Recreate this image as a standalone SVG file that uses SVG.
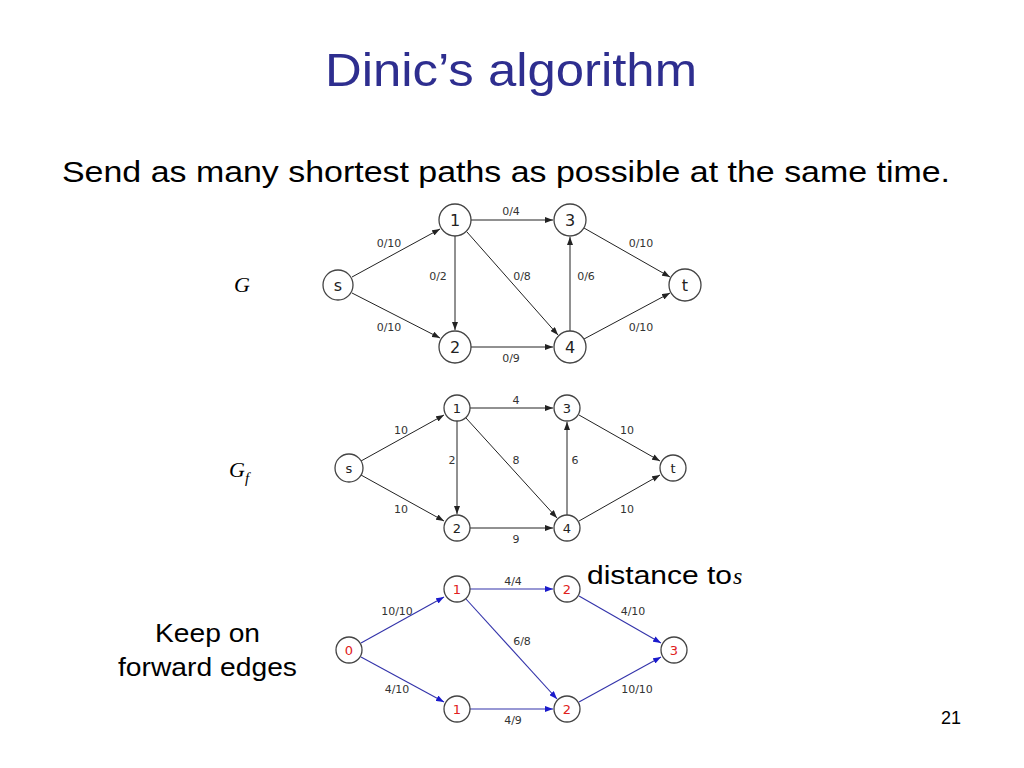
<svg xmlns="http://www.w3.org/2000/svg" width="1024" height="768" viewBox="0 0 1024 768">
<style>
.n circle{fill:#fff;stroke:#444;stroke-width:1.3}
.nt{font-family:"DejaVu Sans",sans-serif;text-anchor:middle;fill:#222}
.lb{font-family:"DejaVu Sans",sans-serif;font-size:11px;fill:#333;text-anchor:middle}
.e{stroke:#222;stroke-width:1;fill:none;marker-end:url(#a)}
.eb{stroke:#3333aa;stroke-width:1.1;fill:none;marker-end:url(#b)}
.red{fill:#e02020}
.txt{font-family:"Liberation Sans",Arial,sans-serif;fill:#000}
</style>
<defs>
<marker id="a" markerWidth="8" markerHeight="6" refX="8" refY="3" orient="auto" markerUnits="userSpaceOnUse"><path d="M0,0L8,3L0,6z" fill="#222"/></marker>
<marker id="b" markerWidth="8" markerHeight="6" refX="8" refY="3" orient="auto" markerUnits="userSpaceOnUse"><path d="M0,0L8,3L0,6z" fill="#1a1acc"/></marker>
</defs>
<rect width="1024" height="768" fill="#fff"/>
<text x="325" y="86" class="txt" font-size="46" textLength="372" lengthAdjust="spacingAndGlyphs" style="fill:#2e2e8f">Dinic’s algorithm</text>
<text x="62" y="182" class="txt" font-size="30" textLength="888" lengthAdjust="spacingAndGlyphs">Send as many shortest paths as possible at the same time.</text>
<text x="234" y="292" font-family="Liberation Serif,serif" font-style="italic" font-size="22">G</text>
<text x="229" y="477" font-family="Liberation Serif,serif" font-style="italic" font-size="22">G<tspan font-size="15" dy="6">f</tspan></text>
<text x="587" y="584" class="txt" font-size="25" textLength="145" lengthAdjust="spacingAndGlyphs">distance to</text>
<text x="733" y="584" font-family="Liberation Serif,serif" font-style="italic" font-size="24">s</text>
<text x="155" y="642" class="txt" font-size="26" textLength="105" lengthAdjust="spacingAndGlyphs">Keep on</text>
<text x="118" y="676" class="txt" font-size="26" textLength="179" lengthAdjust="spacingAndGlyphs">forward edges</text>
<text x="951" y="724" class="txt" font-size="18" text-anchor="middle">21</text>

<g id="connectors">
<line class="e" x1="352" y1="277" x2="440" y2="229"/>
<line class="e" x1="352" y1="293" x2="440" y2="338"/>
<line class="e" x1="471" y1="220" x2="553" y2="220"/>
<line class="e" x1="455" y1="236" x2="455" y2="330"/>
<line class="e" x1="467" y1="232" x2="558" y2="335"/>
<line class="e" x1="471" y1="347" x2="553" y2="347"/>
<line class="e" x1="570" y1="331" x2="570" y2="237"/>
<line class="e" x1="584" y1="228" x2="670" y2="277"/>
<line class="e" x1="584" y1="339" x2="670" y2="293"/>

<line class="e" x1="361" y1="461" x2="444" y2="415"/>
<line class="e" x1="361" y1="475" x2="444" y2="521"/>
<line class="e" x1="470" y1="408" x2="553" y2="408"/>
<line class="e" x1="457" y1="421" x2="457" y2="514"/>
<line class="e" x1="466" y1="418" x2="557" y2="518"/>
<line class="e" x1="470" y1="528" x2="553" y2="528"/>
<line class="e" x1="567" y1="515" x2="567" y2="422"/>
<line class="e" x1="579" y1="415" x2="660" y2="461"/>
<line class="e" x1="579" y1="521" x2="660" y2="475"/>

<line class="eb" x1="361" y1="643" x2="444" y2="597"/>
<line class="eb" x1="361" y1="657" x2="444" y2="702"/>
<line class="eb" x1="470" y1="589" x2="553" y2="589"/>
<line class="eb" x1="466" y1="599" x2="557" y2="699"/>
<line class="eb" x1="470" y1="709" x2="553" y2="709"/>
<line class="eb" x1="579" y1="596" x2="661" y2="643"/>
<line class="eb" x1="579" y1="702" x2="661" y2="657"/>
</g>

<g id="labels">
<text class="lb" x="389" y="247">0/10</text>
<text class="lb" x="389" y="331">0/10</text>
<text class="lb" x="511" y="215">0/4</text>
<text class="lb" x="438" y="280">0/2</text>
<text class="lb" x="522" y="280">0/8</text>
<text class="lb" x="586" y="280">0/6</text>
<text class="lb" x="511" y="362">0/9</text>
<text class="lb" x="641" y="247">0/10</text>
<text class="lb" x="641" y="331">0/10</text>

<text class="lb" x="401" y="434">10</text>
<text class="lb" x="401" y="513">10</text>
<text class="lb" x="516" y="404">4</text>
<text class="lb" x="452" y="464">2</text>
<text class="lb" x="516" y="464">8</text>
<text class="lb" x="575" y="464">6</text>
<text class="lb" x="516" y="543">9</text>
<text class="lb" x="627" y="434">10</text>
<text class="lb" x="627" y="513">10</text>

<text class="lb" x="397" y="615">10/10</text>
<text class="lb" x="397" y="693">4/10</text>
<text class="lb" x="513" y="585">4/4</text>
<text class="lb" x="522" y="645">6/8</text>
<text class="lb" x="513" y="724">4/9</text>
<text class="lb" x="633" y="615">4/10</text>
<text class="lb" x="637" y="693">10/10</text>
</g>

<g id="n-s" class="n"><circle cx="338" cy="285" r="15"/><text class="nt" x="338" y="291" font-size="16">s</text></g>
<g id="n-1" class="n"><circle cx="455" cy="220" r="16"/><text class="nt" x="455" y="226" font-size="16">1</text></g>
<g id="n-3" class="n"><circle cx="570" cy="220" r="16"/><text class="nt" x="570" y="226" font-size="16">3</text></g>
<g id="n-2" class="n"><circle cx="455" cy="347" r="16"/><text class="nt" x="455" y="353" font-size="16">2</text></g>
<g id="n-4" class="n"><circle cx="570" cy="347" r="16"/><text class="nt" x="570" y="353" font-size="16">4</text></g>
<g id="n-t" class="n"><circle cx="685" cy="285" r="16"/><text class="nt" x="685" y="291" font-size="16">t</text></g>

<g id="f-s" class="n"><circle cx="349" cy="468" r="14"/><text class="nt" x="349" y="473" font-size="13">s</text></g>
<g id="f-1" class="n"><circle cx="457" cy="408" r="13"/><text class="nt" x="457" y="413" font-size="13">1</text></g>
<g id="f-3" class="n"><circle cx="567" cy="408" r="13"/><text class="nt" x="567" y="413" font-size="13">3</text></g>
<g id="f-2" class="n"><circle cx="457" cy="528" r="13"/><text class="nt" x="457" y="533" font-size="13">2</text></g>
<g id="f-4" class="n"><circle cx="567" cy="528" r="13"/><text class="nt" x="567" y="533" font-size="13">4</text></g>
<g id="f-t" class="n"><circle cx="673" cy="468" r="13"/><text class="nt" x="673" y="473" font-size="13">t</text></g>

<g id="d-0" class="n"><circle cx="349" cy="650" r="13"/><text class="nt red" x="349" y="655" font-size="13">0</text></g>
<g id="d-1a" class="n"><circle cx="457" cy="589" r="13"/><text class="nt red" x="457" y="594" font-size="13">1</text></g>
<g id="d-2a" class="n"><circle cx="567" cy="589" r="13"/><text class="nt red" x="567" y="594" font-size="13">2</text></g>
<g id="d-1b" class="n"><circle cx="457" cy="709" r="13"/><text class="nt red" x="457" y="714" font-size="13">1</text></g>
<g id="d-2b" class="n"><circle cx="567" cy="709" r="13"/><text class="nt red" x="567" y="714" font-size="13">2</text></g>
<g id="d-3" class="n"><circle cx="674" cy="650" r="13"/><text class="nt red" x="674" y="655" font-size="13">3</text></g>
</svg>
